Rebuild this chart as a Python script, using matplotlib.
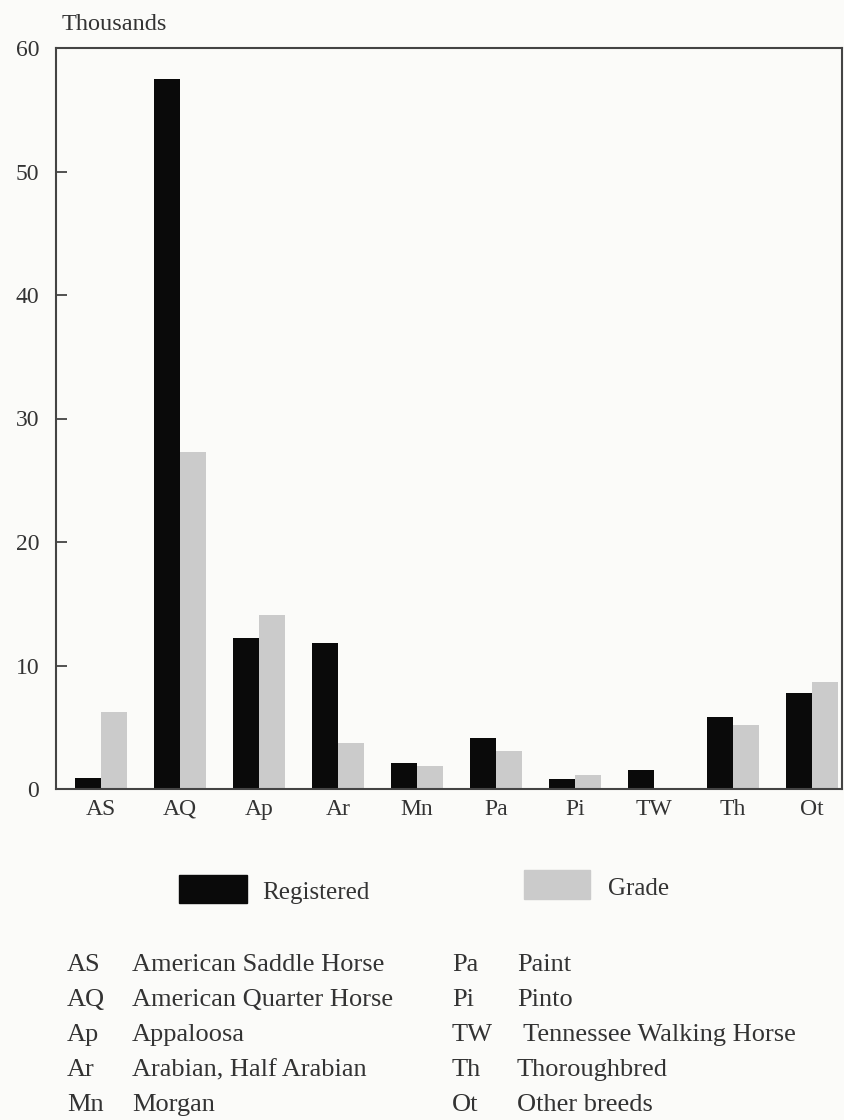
import numpy as np
import matplotlib.pyplot as plt
from matplotlib.patches import Rectangle

plt.rcParams['font.family'] = ['Liberation Serif', 'DejaVu Serif']

# Data (thousands of horses)
breeds = ["AS", "AQ", "Ap", "Ar", "Mn", "Pa", "Pi", "TW", "Th", "Ot"]
registered = [0.9, 57.5, 12.2, 11.8, 2.1, 4.15, 0.8, 1.5, 5.8, 7.8]
grade = [6.2, 27.3, 14.1, 3.7, 1.85, 3.1, 1.1, 0.0, 5.15, 8.7]
yticks = [0, 10, 20, 30, 40, 50, 60]

key_left = ["AS", "AQ", "Ap", "Ar", "Mn"]
names_left = ["American Saddle Horse", "American Quarter Horse", "Appaloosa",
              "Arabian, Half Arabian", "Morgan"]
key_right = ["Pa", "Pi", "TW", "Th", "Ot"]
names_right = ["Paint", "Pinto", " Tennessee Walking Horse", "Thoroughbred",
               "Other breeds"]

txt = '#333333'
black = '#0a0a0a'
grey = '#cbcbcb'
bg = '#fbfbf9'

W, H = 845, 1120
fig = plt.figure(figsize=(W / 100, H / 100), dpi=100, facecolor=bg)
ax = fig.add_axes([56 / W, 1 - 789 / H, (842 - 56) / W, (789 - 48) / H])
ax.set_facecolor(bg)

x = np.arange(len(breeds))
w = 0.335
ax.bar(x - w / 2, registered, w, color=black, linewidth=0)
ax.bar(x + w / 2, grade, w, color=grey, linewidth=0)

ax.set_xlim(-0.57, 9.38)
ax.set_ylim(0, 60)
ax.set_yticks(yticks)
ax.set_xticks(x)
ax.set_xticklabels(breeds, fontsize=17, color=txt)
ax.tick_params(axis='x', length=0, pad=7)
ax.tick_params(axis='y', direction='in', length=8, width=1.3, color='#444444',
               pad=12, labelsize=17, labelcolor=txt)
for s in ax.spines.values():
    s.set_color('#444444')
    s.set_linewidth(1.5)

fig.text(62 / W, 1 - 25 / H, "Thousands", fontsize=17.5, color=txt,
         ha='left', va='center')

# legend swatches
fig.add_artist(Rectangle((179 / W, 1 - 903 / H), 68 / W, 28 / H,
                         transform=fig.transFigure, color=black))
fig.text(262 / W, 1 - 893 / H, "Registered", fontsize=18, color=txt,
         ha='left', va='center')
fig.add_artist(Rectangle((524 / W, 1 - 899 / H), 66 / W, 29 / H,
                         transform=fig.transFigure, color=grey))
fig.text(608 / W, 1 - 889 / H, "Grade", fontsize=18, color=txt,
         ha='left', va='center')

# key to abbreviations
for i in range(5):
    yy = 1 - (965 + 35 * i) / H
    fig.text(67 / W, yy, key_left[i], fontsize=19, color=txt, va='center')
    fig.text(132 / W, yy, names_left[i], fontsize=19, color=txt, va='center')
    fig.text(452 / W, yy, key_right[i], fontsize=19, color=txt, va='center')
    fig.text(517 / W, yy, names_right[i], fontsize=19, color=txt, va='center')

fig.savefig("out.png", dpi=100, facecolor=bg)
